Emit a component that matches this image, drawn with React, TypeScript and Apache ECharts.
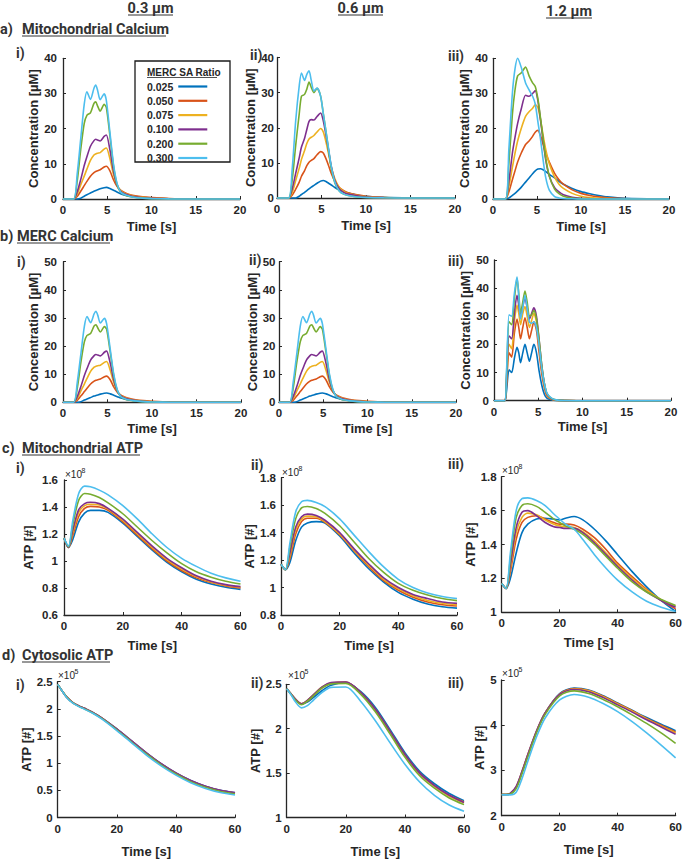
import React, { useEffect, useRef } from "react";
import * as echarts from "echarts";

// ---------- legend / series identity ----------
const RATIOS = ["0.025", "0.050", "0.075", "0.100", "0.200", "0.300"];
const COLORS = ["#0072BD", "#D95319", "#EDB120", "#7E2F8E", "#77AC30", "#4DBEEE"];

// ---------- a-i, b-i, b-ii : 0.3 µm calcium (identical curves) ----------
const T_CA03 = [0, 1.2, 1.6, 2.0, 2.4, 2.7, 3.1, 3.5, 3.7, 3.9, 4.2, 4.65, 4.9, 5.3, 5.7, 6.1, 6.5, 7, 7.5, 8, 9, 10, 12, 15, 20];
const CA03_025 = [0, 0, 0, 0.2, 0.8, 1.2, 1.7, 2.2, 2.4, 2.6, 2.9, 3.2, 3.3, 3.0, 2.5, 2.0, 1.5, 1.1, 0.8, 0.6, 0.3, 0.2, 0.08, 0.02, 0];
const CA03_050 = [0, 0, 0.7, 2.2, 3.8, 5, 6.5, 7.5, 7.8, 8, 8.3, 9.1, 9.3, 8, 5.5, 3.6, 2.5, 1.8, 1.3, 1.0, 0.6, 0.4, 0.15, 0.03, 0];
const CA03_075 = [0, 0, 1.3, 4, 6.5, 8.5, 11, 12.5, 12.8, 13, 13.2, 14.2, 14.5, 11.5, 7, 4, 2.5, 1.6, 1.1, 0.8, 0.45, 0.25, 0.08, 0.02, 0];
const CA03_100 = [0, 0, 2, 5.5, 9.5, 12, 15, 16.6, 17, 16.8, 16.5, 17.8, 18.2, 14, 8, 4, 2.3, 1.4, 1, 0.7, 0.35, 0.2, 0.06, 0.01, 0];
const CA03_200 = [0, 0, 5, 14, 21.5, 23.8, 24.5, 27.2, 27.6, 26.5, 25, 26.9, 26, 18, 9.5, 4.2, 2, 1.1, 0.7, 0.5, 0.25, 0.12, 0.04, 0, 0];
const CA03_300 = [0, 0, 7, 17, 27, 30.5, 28.3, 31.5, 32.4, 31, 28.2, 29.9, 28, 19, 10, 4.5, 2, 1.2, 0.8, 0.5, 0.25, 0.12, 0.04, 0, 0];

// ---------- a-ii : 0.6 µm mitochondrial calcium ----------
const T_CA06 = [0, 1.3, 1.7, 2.1, 2.5, 2.75, 3.1, 3.35, 3.6, 3.85, 4.15, 4.5, 4.9, 5.2, 5.5, 5.8, 6.1, 6.5, 7, 7.5, 8, 9, 10, 12, 15, 20];
const CA06_025 = [0, 0, 0, 0, 0.5, 1.0, 1.6, 2.1, 2.6, 3.1, 3.6, 4.2, 4.8, 5.0, 4.7, 4.2, 3.7, 3.0, 2.3, 1.8, 1.4, 0.8, 0.5, 0.2, 0.05, 0];
const CA06_050 = [0, 0, 0.8, 2.5, 4.5, 6.2, 7.8, 9.2, 10.2, 10.7, 11.2, 12.3, 13.2, 12.8, 11.2, 9.2, 7, 4.8, 3, 2.1, 1.5, 0.9, 0.5, 0.15, 0.03, 0];
const CA06_075 = [0, 0, 1.5, 5, 8.5, 11, 13.5, 15.5, 16.8, 17.3, 17.8, 18.8, 19.8, 18.8, 16, 12.5, 8.8, 5.5, 3, 1.9, 1.3, 0.7, 0.35, 0.1, 0.02, 0];
const CA06_100 = [0, 0, 2.5, 7, 11.5, 14.5, 17, 19.5, 21.8, 22.3, 22.2, 23.2, 24.2, 22, 18, 13.5, 9, 5, 2.6, 1.6, 1.1, 0.6, 0.3, 0.1, 0.02, 0];
const CA06_200 = [0, 0, 5, 15, 24, 29, 29.5, 31, 33, 31.5, 30, 31.2, 29, 24, 19, 13.5, 8.5, 4.3, 2, 1.1, 0.7, 0.3, 0.15, 0.05, 0, 0];
const CA06_300 = [0, 0, 8, 22, 32, 35.6, 33.5, 35.2, 36.2, 33.5, 30.5, 31.3, 29, 24, 19, 14, 9, 4.5, 2, 1.1, 0.7, 0.3, 0.15, 0.05, 0, 0];

// ---------- a-iii : 1.2 µm mitochondrial calcium ----------
const T_CA12 = [0, 1.4, 1.8, 2.2, 2.5, 2.8, 3.2, 3.7, 4.1, 4.5, 4.8, 5.1, 5.4, 5.7, 6.0, 6.4, 7, 7.5, 8, 9, 10, 11, 12, 13, 15, 20];
const CA12_025 = [0, 0, 0.3, 1.0, 1.6, 2.3, 3.3, 4.8, 6, 7.2, 8, 8.5, 8.6, 8.3, 7.8, 7, 6, 5, 4.2, 3, 2.1, 1.5, 1.0, 0.6, 0.2, 0];
const CA12_050 = [0, 0, 2, 5.5, 8, 10.5, 13, 15.5, 16.5, 17.8, 19, 19.5, 18, 15.5, 13, 10.5, 7.3, 5.5, 4.2, 2.6, 1.6, 1.0, 0.6, 0.35, 0.1, 0];
const CA12_075 = [0, 0, 3.5, 9, 13, 16.5, 20, 23.5, 24.8, 25.8, 26.8, 26, 22.5, 18, 14, 10, 6.2, 4.2, 3, 1.6, 0.8, 0.4, 0.2, 0.1, 0, 0];
const CA12_100 = [0, 0, 5, 13, 17.5, 21.5, 25.5, 29.5, 29.2, 30, 30.8, 28, 22.5, 16.5, 11, 6.5, 3.2, 2, 1.2, 0.5, 0.2, 0.1, 0.05, 0, 0, 0];
const CA12_200 = [0, 0, 10, 24, 31, 35, 35.8, 37.5, 35, 33, 32, 28.5, 23, 17, 11.5, 6.5, 2.8, 1.5, 0.8, 0.3, 0.1, 0.05, 0, 0, 0, 0];
const CA12_300 = [0, 0, 14, 30, 37, 40, 37.5, 33, 31, 29.2, 27, 22, 17, 11, 6, 2.5, 0.7, 0.3, 0.15, 0.05, 0, 0, 0, 0, 0, 0];

// ---------- b-iii : 1.2 µm MERC calcium ----------
const T_MERC12 = [0, 1.2, 1.4, 1.7, 2.0, 2.3, 2.6, 2.8, 3.0, 3.25, 3.5, 3.75, 4.0, 4.25, 4.5, 4.8, 5.1, 5.4, 5.7, 6.0, 6.5, 7, 8, 10, 15, 20];
const MERC12_025 = [0, 0, 3, 11, 10, 15, 19, 17, 13.5, 17, 20, 17, 14, 17, 20, 17, 10.5, 5.5, 2.2, 0.8, 0.3, 0.1, 0, 0, 0, 0];
const MERC12_050 = [0, 0, 5, 17, 15.5, 24, 29, 26, 22, 26, 29.5, 26, 22, 25, 28, 25, 17, 9.5, 4.5, 1.6, 0.5, 0.2, 0.05, 0, 0, 0];
const MERC12_075 = [0, 0, 6, 20, 18.5, 28, 34, 31, 27, 31, 33.5, 30, 26, 28.5, 31, 28, 20, 11.5, 5.5, 2, 0.6, 0.2, 0.05, 0, 0, 0];
const MERC12_100 = [0, 0, 7, 23, 22, 31, 37.5, 34, 30, 33.5, 36.5, 33, 29, 31, 33, 30, 21.5, 12.5, 6, 2.2, 0.7, 0.25, 0.05, 0, 0, 0];
const MERC12_200 = [0, 0, 8, 28, 27, 36, 43.5, 38, 31, 35, 39, 35, 30, 30.5, 32, 29, 21.5, 12.5, 6, 2.5, 0.8, 0.3, 0.05, 0, 0, 0];
const MERC12_300 = [0, 0, 9, 30.5, 30, 38, 44, 37, 29, 33, 37.5, 33, 28, 27.5, 28, 26, 19.5, 11.5, 6, 2.5, 0.9, 0.3, 0.05, 0, 0, 0];

// ---------- ATP time base ----------
const T_ATP = [0, 1.5, 3, 5, 7, 9, 12, 15, 20, 25, 30, 35, 40, 45, 50, 55, 60];

// c-i : mitochondrial ATP 0.3 µm (×1e8)
const MATP03_025 = [1.17, 1.10, 1.16, 1.29, 1.355, 1.375, 1.375, 1.36, 1.28, 1.18, 1.08, 0.99, 0.92, 0.865, 0.83, 0.805, 0.79];
const MATP03_050 = [1.17, 1.10, 1.19, 1.33, 1.39, 1.405, 1.40, 1.375, 1.29, 1.19, 1.09, 1.00, 0.93, 0.875, 0.84, 0.815, 0.80];
const MATP03_075 = [1.17, 1.10, 1.21, 1.36, 1.41, 1.42, 1.415, 1.385, 1.30, 1.20, 1.10, 1.01, 0.94, 0.885, 0.845, 0.82, 0.805];
const MATP03_100 = [1.17, 1.10, 1.23, 1.38, 1.425, 1.435, 1.425, 1.39, 1.31, 1.21, 1.11, 1.02, 0.95, 0.89, 0.85, 0.825, 0.81];
const MATP03_200 = [1.17, 1.105, 1.27, 1.45, 1.50, 1.495, 1.47, 1.43, 1.35, 1.25, 1.15, 1.06, 0.98, 0.92, 0.88, 0.85, 0.83];
const MATP03_300 = [1.17, 1.11, 1.30, 1.50, 1.555, 1.55, 1.525, 1.49, 1.41, 1.31, 1.20, 1.10, 1.02, 0.96, 0.91, 0.875, 0.85];

// c-ii : mitochondrial ATP 0.6 µm (×1e8)
const MATP06_025 = [1.17, 1.13, 1.18, 1.34, 1.44, 1.47, 1.48, 1.47, 1.375, 1.25, 1.135, 1.04, 0.965, 0.915, 0.88, 0.86, 0.85];
const MATP06_050 = [1.17, 1.13, 1.21, 1.39, 1.48, 1.505, 1.505, 1.475, 1.385, 1.265, 1.15, 1.05, 0.98, 0.93, 0.895, 0.875, 0.865];
const MATP06_075 = [1.17, 1.13, 1.23, 1.42, 1.50, 1.52, 1.515, 1.48, 1.39, 1.27, 1.16, 1.06, 0.99, 0.94, 0.905, 0.885, 0.875];
const MATP06_100 = [1.17, 1.13, 1.25, 1.44, 1.515, 1.535, 1.525, 1.49, 1.40, 1.28, 1.17, 1.07, 1.00, 0.95, 0.92, 0.895, 0.885];
const MATP06_200 = [1.17, 1.13, 1.29, 1.50, 1.58, 1.59, 1.575, 1.54, 1.45, 1.33, 1.21, 1.11, 1.03, 0.98, 0.945, 0.92, 0.905];
const MATP06_300 = [1.17, 1.13, 1.32, 1.55, 1.625, 1.635, 1.62, 1.59, 1.50, 1.38, 1.26, 1.15, 1.06, 1.00, 0.96, 0.935, 0.92];

// c-iii : mitochondrial ATP 1.2 µm (×1e8)
const T_MATP12 = [0, 1.5, 3, 5, 7, 9, 12, 15, 18, 20, 22, 25, 28, 32, 36, 40, 45, 50, 55, 60];
const MATP12_025 = [1.17, 1.14, 1.20, 1.35, 1.47, 1.52, 1.55, 1.555, 1.55, 1.545, 1.555, 1.565, 1.545, 1.49, 1.42, 1.34, 1.24, 1.15, 1.07, 1.005];
const MATP12_050 = [1.17, 1.14, 1.24, 1.43, 1.53, 1.56, 1.57, 1.55, 1.53, 1.52, 1.52, 1.515, 1.49, 1.44, 1.37, 1.29, 1.21, 1.135, 1.07, 1.02];
const MATP12_075 = [1.17, 1.14, 1.26, 1.47, 1.56, 1.585, 1.575, 1.545, 1.52, 1.51, 1.505, 1.50, 1.475, 1.42, 1.35, 1.28, 1.20, 1.13, 1.075, 1.035];
const MATP12_100 = [1.17, 1.14, 1.28, 1.50, 1.59, 1.60, 1.57, 1.53, 1.505, 1.50, 1.495, 1.495, 1.47, 1.41, 1.34, 1.27, 1.19, 1.12, 1.07, 1.03];
const MATP12_200 = [1.17, 1.14, 1.32, 1.56, 1.63, 1.64, 1.625, 1.59, 1.55, 1.53, 1.51, 1.49, 1.46, 1.40, 1.33, 1.26, 1.18, 1.12, 1.075, 1.04];
const MATP12_300 = [1.17, 1.14, 1.35, 1.60, 1.67, 1.675, 1.66, 1.63, 1.58, 1.55, 1.52, 1.49, 1.43, 1.34, 1.26, 1.19, 1.12, 1.065, 1.03, 1.005];

// d-i : cytosolic ATP 0.3 µm (×1e5)
const CATP03_025 = [2.45, 2.33, 2.22, 2.12, 2.06, 2.01, 1.93, 1.83, 1.63, 1.41, 1.19, 0.99, 0.82, 0.68, 0.575, 0.50, 0.455];
const CATP03_050 = [2.45, 2.33, 2.22, 2.12, 2.06, 2.01, 1.93, 1.83, 1.625, 1.405, 1.185, 0.985, 0.815, 0.675, 0.57, 0.495, 0.45];
const CATP03_075 = [2.45, 2.33, 2.22, 2.12, 2.055, 2.005, 1.925, 1.825, 1.62, 1.40, 1.18, 0.98, 0.81, 0.67, 0.565, 0.49, 0.445];
const CATP03_100 = [2.45, 2.33, 2.22, 2.12, 2.06, 2.01, 1.93, 1.83, 1.63, 1.41, 1.19, 0.99, 0.82, 0.68, 0.575, 0.50, 0.458];
const CATP03_200 = [2.45, 2.33, 2.22, 2.115, 2.05, 2.0, 1.92, 1.82, 1.615, 1.39, 1.17, 0.97, 0.80, 0.66, 0.555, 0.48, 0.435];
const CATP03_300 = [2.45, 2.33, 2.21, 2.11, 2.045, 1.995, 1.915, 1.81, 1.60, 1.375, 1.15, 0.95, 0.78, 0.64, 0.535, 0.46, 0.415];

// d-ii : cytosolic ATP 0.6 µm (×1e5)
const CATP06_025 = [2.45, 2.39, 2.33, 2.28, 2.30, 2.35, 2.43, 2.49, 2.52, 2.42, 2.24, 1.99, 1.73, 1.52, 1.38, 1.27, 1.19];
const CATP06_050 = [2.45, 2.39, 2.33, 2.28, 2.31, 2.37, 2.46, 2.51, 2.525, 2.41, 2.22, 1.97, 1.71, 1.50, 1.36, 1.25, 1.175];
const CATP06_075 = [2.45, 2.39, 2.33, 2.28, 2.32, 2.38, 2.47, 2.515, 2.52, 2.40, 2.21, 1.96, 1.70, 1.49, 1.35, 1.24, 1.165];
const CATP06_100 = [2.45, 2.39, 2.33, 2.28, 2.32, 2.38, 2.47, 2.52, 2.525, 2.41, 2.22, 1.97, 1.71, 1.50, 1.36, 1.25, 1.17];
const CATP06_200 = [2.45, 2.385, 2.32, 2.27, 2.31, 2.37, 2.46, 2.505, 2.51, 2.39, 2.19, 1.94, 1.68, 1.47, 1.33, 1.22, 1.145];
const CATP06_300 = [2.45, 2.38, 2.30, 2.235, 2.26, 2.32, 2.41, 2.465, 2.47, 2.31, 2.09, 1.84, 1.60, 1.40, 1.25, 1.14, 1.07];

// d-iii : cytosolic ATP 1.2 µm (×1e5)
const CATP12_025 = [2.47, 2.47, 2.48, 2.62, 2.95, 3.32, 3.85, 4.27, 4.70, 4.82, 4.78, 4.65, 4.49, 4.33, 4.17, 4.02, 3.88];
const CATP12_050 = [2.47, 2.47, 2.49, 2.63, 2.97, 3.34, 3.86, 4.27, 4.69, 4.81, 4.77, 4.64, 4.48, 4.32, 4.15, 4.00, 3.85];
const CATP12_075 = [2.47, 2.47, 2.49, 2.63, 2.97, 3.34, 3.86, 4.27, 4.68, 4.80, 4.76, 4.63, 4.47, 4.31, 4.14, 3.98, 3.83];
const CATP12_100 = [2.47, 2.47, 2.50, 2.65, 2.98, 3.35, 3.87, 4.27, 4.68, 4.79, 4.74, 4.61, 4.45, 4.29, 4.12, 3.96, 3.80];
const CATP12_200 = [2.47, 2.47, 2.48, 2.60, 2.93, 3.30, 3.83, 4.24, 4.65, 4.76, 4.70, 4.57, 4.41, 4.23, 4.04, 3.83, 3.60];
const CATP12_300 = [2.46, 2.46, 2.46, 2.52, 2.82, 3.20, 3.74, 4.16, 4.56, 4.68, 4.62, 4.48, 4.30, 4.08, 3.83, 3.56, 3.28];

// ---------- layout & styling ----------
const AX = "#262626";
const HEAD = "#333333";
const AXF = '"Liberation Sans", Arial, Helvetica, sans-serif';
const HF = 'Roboto, "Liberation Sans", Arial, sans-serif';
const CONC = "Concentration [µM]";
const ATPN = "ATP [#]";

type Panel = {
  box: number[];
  x: number[];
  y: number[];
  t: number[];
  s: number[][];
  yName: string;
  yGap: number;
  xGap: number;
  lblGap: number;
  smooth: number;
};

const PANELS: Panel[] = [
  { box: [63, 58.3, 177, 140.7], x: [0, 20, 5], y: [0, 40, 10], t: T_CA03, s: [CA03_025, CA03_050, CA03_075, CA03_100, CA03_200, CA03_300], yName: CONC, yGap: 23.5, xGap: 21, lblGap: 6, smooth: 0.25 },
  { box: [277, 57.5, 178, 140.5], x: [0, 20, 5], y: [0, 40, 10], t: T_CA06, s: [CA06_025, CA06_050, CA06_075, CA06_100, CA06_200, CA06_300], yName: CONC, yGap: 17.5, xGap: 21, lblGap: 3, smooth: 0.25 },
  { box: [493, 58.3, 176, 140.7], x: [0, 20, 5], y: [0, 40, 10], t: T_CA12, s: [CA12_025, CA12_050, CA12_075, CA12_100, CA12_200, CA12_300], yName: CONC, yGap: 18.5, xGap: 21, lblGap: 5, smooth: 0.25 },
  { box: [63, 261.7, 178, 140.6], x: [0, 20, 5], y: [0, 50, 10], t: T_CA03, s: [CA03_025, CA03_050, CA03_075, CA03_100, CA03_200, CA03_300], yName: CONC, yGap: 23.5, xGap: 19.5, lblGap: 6, smooth: 0.25 },
  { box: [279, 261.7, 177, 140.6], x: [0, 20, 5], y: [0, 50, 10], t: T_CA03, s: [CA03_025, CA03_050, CA03_075, CA03_100, CA03_200, CA03_300], yName: CONC, yGap: 18.5, xGap: 19.5, lblGap: 3.5, smooth: 0.25 },
  { box: [494, 260, 177, 140.7], x: [0, 20, 5], y: [0, 50, 10], t: T_MERC12, s: [MERC12_025, MERC12_050, MERC12_075, MERC12_100, MERC12_200, MERC12_300], yName: CONC, yGap: 20.5, xGap: 19.5, lblGap: 5, smooth: 0.25 },
  { box: [64, 480, 176.5, 135], x: [0, 60, 20], y: [0.6, 1.6, 0.2], t: T_ATP, s: [MATP03_025, MATP03_050, MATP03_075, MATP03_100, MATP03_200, MATP03_300], yName: ATPN, yGap: 29.5, xGap: 23.5, lblGap: 6, smooth: 0.3 },
  { box: [281, 477.7, 176, 137.3], x: [0, 60, 20], y: [0.8, 1.8, 0.2], t: T_ATP, s: [MATP06_025, MATP06_050, MATP06_075, MATP06_100, MATP06_200, MATP06_300], yName: ATPN, yGap: 21.5, xGap: 23.5, lblGap: 5, smooth: 0.3 },
  { box: [501.7, 476.7, 175, 135.6], x: [0, 60, 20], y: [1.0, 1.8, 0.2], t: T_MATP12, s: [MATP12_025, MATP12_050, MATP12_075, MATP12_100, MATP12_200, MATP12_300], yName: ATPN, yGap: 18.5, xGap: 23.5, lblGap: 5, smooth: 0.3 },
  { box: [57.7, 681.7, 177.3, 136], x: [0, 60, 20], y: [0, 2.5, 0.5], t: T_ATP, s: [CATP03_025, CATP03_050, CATP03_075, CATP03_100, CATP03_200, CATP03_300], yName: ATPN, yGap: 23.5, xGap: 27.5, lblGap: 5, smooth: 0.3 },
  { box: [286.7, 684.3, 177.3, 133.4], x: [0, 60, 20], y: [1, 2.5, 0.5], t: T_ATP, s: [CATP06_025, CATP06_050, CATP06_075, CATP06_100, CATP06_200, CATP06_300], yName: ATPN, yGap: 22.5, xGap: 27.5, lblGap: 5, smooth: 0.3 },
  { box: [501.7, 680, 176, 135.7], x: [0, 60, 20], y: [2, 5, 1], t: T_ATP, s: [CATP12_025, CATP12_050, CATP12_075, CATP12_100, CATP12_200, CATP12_300], yName: ATPN, yGap: 15.5, xGap: 27.5, lblGap: 5, smooth: 0.3 },
];

function txt(text: string, x: number, y: number, size: number, o: any = {}) {
  return {
    type: "text",
    x,
    y,
    silent: true,
    z: 6,
    style: {
      text,
      fontSize: size,
      fontWeight: o.weight ?? "bold",
      fontFamily: o.family ?? HF,
      fill: o.color ?? HEAD,
      align: o.align ?? "left",
      verticalAlign: "middle",
    },
  };
}
function uline(x1: number, x2: number, y: number) {
  return { type: "line", silent: true, z: 6, shape: { x1, y1: y, x2, y2: y }, style: { stroke: HEAD, lineWidth: 1 } };
}
function expo(x: number, y: number, p: string) {
  return [
    txt("×10", x, y, 10, { weight: "normal", family: AXF, color: AX }),
    txt(p, x + 16.5, y - 4, 7, { weight: "normal", family: AXF, color: AX }),
  ];
}

const fmt = (v: number) => String(Math.round(v * 100) / 100);

function buildOption() {
  const grid: any[] = [];
  const xAxis: any[] = [];
  const yAxis: any[] = [];
  const series: any[] = [];
  const labelStyle = { fontSize: 11.5, fontWeight: "bold", fontFamily: AXF, color: AX };
  const nameStyle = { fontSize: 13, fontWeight: "bold", fontFamily: AXF, color: AX };
  PANELS.forEach((p, i) => {
    grid.push({ left: p.box[0], top: p.box[1], width: p.box[2], height: p.box[3], containLabel: false });
    xAxis.push({
      type: "value",
      gridIndex: i,
      min: p.x[0],
      max: p.x[1],
      interval: p.x[2],
      name: "Time [s]",
      nameLocation: "middle",
      nameGap: p.xGap,
      nameTextStyle: nameStyle,
      axisLine: { show: true, onZero: false, lineStyle: { color: AX, width: 1.3 } },
      axisTick: { show: true, inside: true, length: 3, lineStyle: { color: AX, width: 1 } },
      axisLabel: { ...labelStyle, margin: 5, formatter: fmt },
      splitLine: { show: false },
    });
    yAxis.push({
      type: "value",
      gridIndex: i,
      min: p.y[0],
      max: p.y[1],
      interval: p.y[2],
      name: p.yName,
      nameLocation: "middle",
      nameRotate: 90,
      nameGap: p.yGap,
      nameTextStyle: nameStyle,
      axisLine: { show: true, onZero: false, lineStyle: { color: AX, width: 1.3 } },
      axisTick: { show: true, inside: true, length: 3, lineStyle: { color: AX, width: 1 } },
      axisLabel: { ...labelStyle, margin: p.lblGap, formatter: fmt },
      splitLine: { show: false },
    });
    p.s.forEach((vals, j) => {
      series.push({
        type: "line",
        name: RATIOS[j],
        xAxisIndex: i,
        yAxisIndex: i,
        data: p.t.map((t, k) => [t, vals[k]]),
        smooth: p.smooth,
        symbol: "none",
        showSymbol: false,
        clip: false,
        silent: true,
        lineStyle: { width: 1.6, color: COLORS[j] },
        itemStyle: { color: COLORS[j] },
        emphasis: { disabled: true },
      });
    });
  });

  const graphic: any[] = [
    txt("0.3 µm", 150.5, 8, 14.5, { align: "center" }),
    uline(128, 173, 15),
    txt("0.6 µm", 360.5, 8, 14.5, { align: "center" }),
    uline(338, 383, 15),
    txt("1.2 µm", 569, 11, 14.5, { align: "center" }),
    uline(546, 592, 18),
    txt("a)", 0, 29, 14.5),
    txt("Mitochondrial Calcium", 22, 29, 14.5),
    uline(22, 166, 36),
    txt("b)", 0, 236, 14.5),
    txt("MERC Calcium", 17, 236, 14.5),
    uline(17, 110, 243),
    txt("c)", 2, 448, 14.5),
    txt("Mitochondrial ATP", 22, 448, 14.5),
    uline(22, 140, 455),
    txt("d)", 2, 655, 14.5),
    txt("Cytosolic ATP", 22, 655, 14.5),
    uline(22, 110, 662),
    txt("i)", 16, 53, 14),
    txt("ii)", 250, 55, 14),
    txt("iii)", 448, 56, 14),
    txt("i)", 17, 262, 14),
    txt("ii)", 249, 260, 14),
    txt("iii)", 448, 261, 14),
    txt("i)", 16, 468, 14),
    txt("ii)", 251, 465, 14),
    txt("iii)", 448, 464, 14),
    txt("i)", 16, 685, 14),
    txt("ii)", 251, 683, 14),
    txt("iii)", 448, 683, 14),
    ...expo(65, 474, "8"),
    ...expo(282, 472, "8"),
    ...expo(502, 470, "8"),
    ...expo(58, 675, "5"),
    ...expo(288, 675, "5"),
    ...expo(502, 673, "5"),
    {
      type: "rect",
      silent: true,
      z: 3,
      shape: { x: 135, y: 61, width: 95, height: 101 },
      style: { fill: "#ffffff", stroke: "#1a1a1a", lineWidth: 1.3 },
    },
    txt("MERC SA Ratio", 147, 72, 10, { family: AXF, color: AX }),
    { type: "line", silent: true, z: 6, shape: { x1: 147, y1: 77.5, x2: 217, y2: 77.5 }, style: { stroke: AX, lineWidth: 0.8 } },
  ];

  return {
    animation: false,
    backgroundColor: "#ffffff",
    grid,
    xAxis,
    yAxis,
    series,
    legend: {
      data: RATIOS,
      left: 147,
      top: 81,
      orient: "vertical",
      align: "right",
      padding: 0,
      itemWidth: 29,
      itemHeight: 10,
      itemGap: 3.3,
      icon: "path://M0,0 L29,0 L29,2.2 L0,2.2 Z",
      symbolKeepAspect: true,
      itemStyle: { borderWidth: 0 },
      selectedMode: false,
      z: 5,
      textStyle: { fontSize: 10.5, fontWeight: "bold", fontFamily: AXF, color: AX },
    },
    graphic,
  };
}

export default function App() {
  const ref = useRef<HTMLDivElement>(null);
  useEffect(() => {
    if (!ref.current) return;
    const chart = echarts.init(ref.current, undefined, { renderer: "svg" });
    chart.setOption(buildOption() as any);
    return () => chart.dispose();
  }, []);
  return (
    <div
      ref={ref}
      style={{ position: "absolute", left: 0, top: 0, width: 685, height: 859, background: "#fff" }}
    />
  );
}
